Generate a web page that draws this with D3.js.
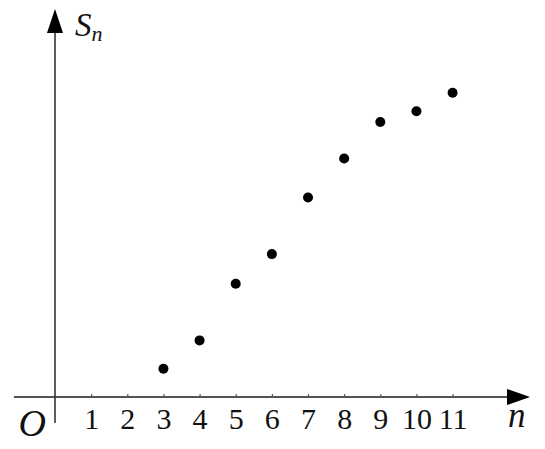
<!DOCTYPE html>
<html>
<head>
<meta charset="utf-8">
<script src="https://cdn.jsdelivr.net/npm/d3@7/dist/d3.min.js"></script>
<style>
  html, body { margin: 0; padding: 0; background: #fff; }
  svg { display: block; }
</style>
</head>
<body>
<svg id="chart" width="545" height="449"></svg>
<script>
// Data
const nValues = [3, 4, 5, 6, 7, 8, 9, 10, 11];
const sValues = [1, 2, 4, 5.05, 7.05, 8.43, 9.72, 10.1, 10.75];
const tickValues = [1, 2, 3, 4, 5, 6, 7, 8, 9, 10, 11];

const svg = d3.select("#chart");
const font = "'Liberation Serif', 'Times New Roman', serif";

const x = d3.scaleLinear().domain([0, 11]).range([55, 452.6]);
const y = d3.scaleLinear().domain([0, 13.5]).range([397, 15]);

const axisColor = "#1a1a1a";

// x axis line with arrow
svg.append("line")
  .attr("x1", 14).attr("y1", y(0)).attr("x2", 512).attr("y2", y(0))
  .attr("stroke", axisColor).attr("stroke-width", 1.6);
svg.append("path")
  .attr("d", `M530,${y(0)} L507,${y(0) - 8} L507,${y(0) + 8} Z`)
  .attr("fill", "#000");

// y axis line with arrow
svg.append("line")
  .attr("x1", x(0)).attr("y1", 423).attr("x2", x(0)).attr("y2", 28)
  .attr("stroke", "#333").attr("stroke-width", 1.6);
svg.append("path")
  .attr("d", `M${x(0)},9 L${x(0) - 8},33 L${x(0) + 8},33 Z`)
  .attr("fill", "#000");

// x ticks via d3 axis
const gx = svg.append("g")
  .attr("transform", `translate(0,${y(0)})`)
  .call(d3.axisBottom(x).tickValues(tickValues).tickSize(-3).tickPadding(11).tickFormat(d3.format("d")));
gx.select(".domain").remove();
gx.selectAll(".tick line").attr("stroke", "#555").attr("stroke-width", 1.2);
gx.selectAll(".tick text")
  .attr("font-family", font).attr("font-size", 30).attr("fill", "#111");

// Points
svg.append("g").selectAll("circle")
  .data(nValues.map((n, i) => ({ n, s: sValues[i] })))
  .join("circle")
  .attr("cx", d => x(d.n))
  .attr("cy", d => y(d.s))
  .attr("r", 5)
  .attr("fill", "#000");

// Labels
svg.append("text")
  .attr("x", 46).attr("y", 436)
  .attr("text-anchor", "end")
  .attr("font-family", font).attr("font-style", "italic")
  .attr("font-size", 38).attr("fill", "#111")
  .text("O");

svg.append("text")
  .attr("x", 508).attr("y", 427)
  .attr("font-family", font).attr("font-style", "italic")
  .attr("font-size", 35).attr("fill", "#111")
  .text("n");

const sLabel = svg.append("text")
  .attr("x", 75).attr("y", 36)
  .attr("font-family", font).attr("font-style", "italic")
  .attr("fill", "#111");
sLabel.append("tspan").attr("font-size", 33).text("S");
sLabel.append("tspan").attr("font-size", 22).attr("dy", 5).text("n");
</script>
</body>
</html>
